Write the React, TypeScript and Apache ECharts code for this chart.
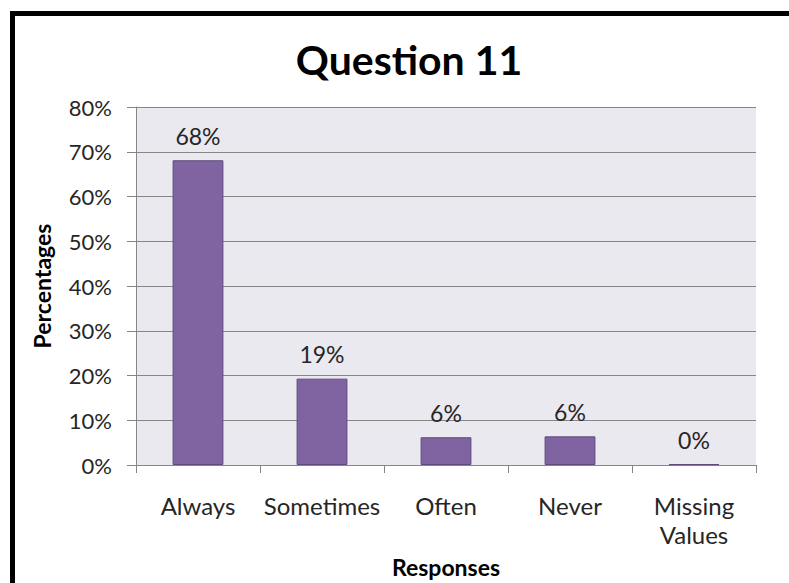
import React, { useEffect, useRef } from "react";
import * as echarts from "echarts";

const categories = ["Always", "Sometimes", "Often", "Never", "Missing\nValues"];
const values = [68.1, 19.3, 6.2, 6.4, 0.2];
const valueLabels = ["68%", "19%", "6%", "6%", "0%"];
const yMin = 0;
const yMax = 80;
const yStep = 10;

const FONT = "Lato, 'Open Sans', sans-serif";

export default function App() {
  const ref = useRef<HTMLDivElement>(null);
  useEffect(() => {
    if (!ref.current) return;
    const chart = echarts.init(ref.current, undefined, { renderer: "svg" });
    chart.setOption({
      animation: false,
      backgroundColor: "#ffffff",
      textStyle: { fontFamily: FONT },
      title: {
        text: "Question 11",
        left: 404,
        top: 34,
        textAlign: "center",
        textStyle: { fontFamily: FONT, fontSize: 41, fontWeight: "bold", color: "#000" },
      },
      graphic: [
        {
          type: "rect",
          silent: true,
          shape: { x: 12.5, y: 13.5, width: 900, height: 700 },
          style: { fill: "none", stroke: "#000", lineWidth: 5 },
        },
      ],
      grid: {
        left: 136,
        right: 33,
        top: 107,
        bottom: 112,
        show: true,
        backgroundColor: "#EBE9F0",
        borderWidth: 0,
      },
      xAxis: {
        type: "category",
        data: categories,
        axisLine: { show: true, lineStyle: { color: "#868686", width: 1 } },
        axisTick: { show: true, length: 8, lineStyle: { color: "#868686" } },
        axisLabel: {
          interval: 0,
          fontSize: 24,
          lineHeight: 29,
          color: "#262626",
          margin: 26,
          fontFamily: FONT,
        },
        name: "Responses",
        nameLocation: "middle",
        nameGap: 90,
        nameTextStyle: { fontSize: 23, fontWeight: "bold", color: "#000", fontFamily: FONT },
      },
      yAxis: {
        type: "value",
        min: yMin,
        max: yMax,
        interval: yStep,
        axisLine: { show: true, lineStyle: { color: "#868686", width: 1 } },
        axisTick: { show: true, length: 9, lineStyle: { color: "#868686" } },
        splitLine: { show: true, lineStyle: { color: "#868686", width: 1 } },
        axisLabel: {
          formatter: "{value}%",
          fontSize: 22,
          color: "#262626",
          margin: 24,
          fontFamily: FONT,
        },
        name: "Percentages",
        nameLocation: "middle",
        nameGap: 83,
        nameTextStyle: { fontSize: 23, fontWeight: "bold", color: "#000", fontFamily: FONT },
      },
      series: [
        {
          type: "bar",
          data: values,
          barWidth: "41%",
          itemStyle: { color: "#8064A2", borderColor: "#5E4A7E", borderWidth: 1 },
          label: {
            show: true,
            position: "top",
            distance: 13,
            fontSize: 23,
            color: "#262626",
            fontFamily: FONT,
            formatter: (p: any) => valueLabels[p.dataIndex],
          },
        },
      ],
    });
    return () => chart.dispose();
  }, []);
  return (
    <div
      ref={ref}
      style={{ position: "fixed", left: 0, top: 0, width: 789, height: 583, background: "#fff" }}
    />
  );
}
